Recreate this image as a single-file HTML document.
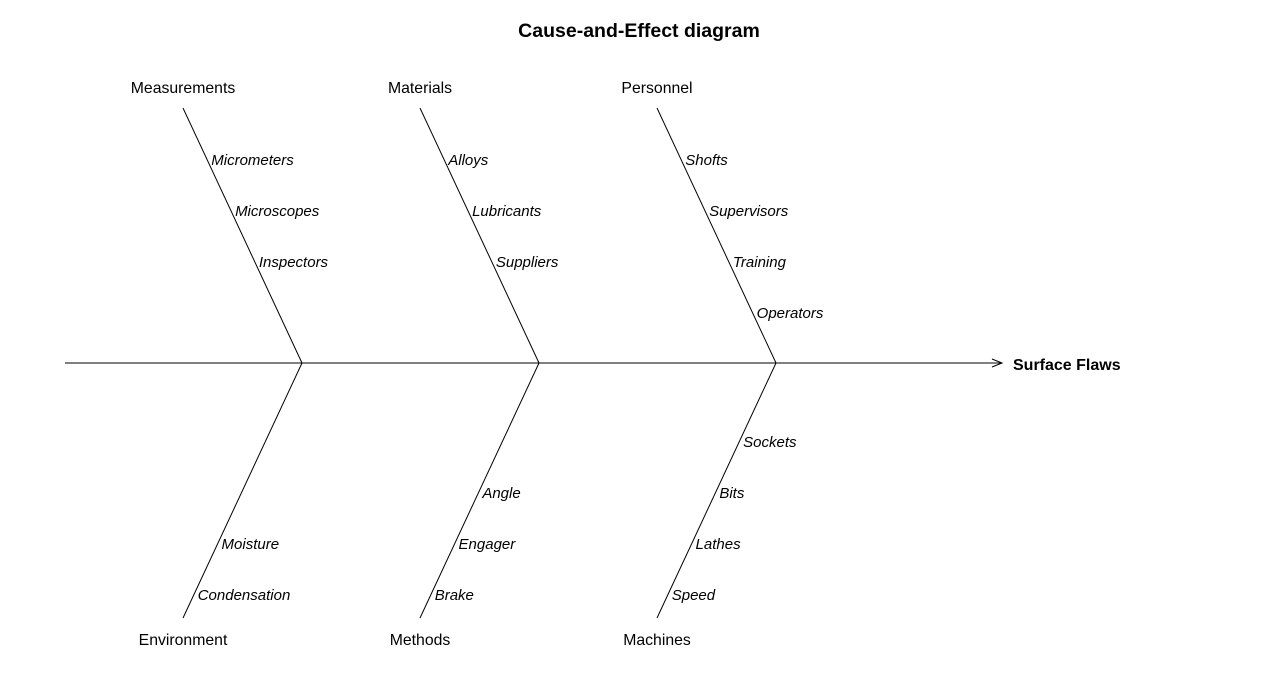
<!DOCTYPE html>
<html><head><meta charset="utf-8"><style>
html,body{margin:0;padding:0;background:#fff;}
svg{display:block;font-family:"Liberation Sans",Arial,sans-serif;}
</style></head><body>
<svg id="chart" width="1280" height="689" viewBox="0 0 1280 689">
<text x="639" y="37" text-anchor="middle" font-size="19.5" font-weight="bold">Cause-and-Effect diagram</text>
<line x1="65" y1="363" x2="1002" y2="363" stroke="#000" stroke-width="1"/>
<polyline points="992,359 1002,363 992,367" fill="none" stroke="#000"/>
<text x="1013" y="370" font-size="16" font-weight="bold">Surface Flaws</text>
<g id="bones"></g>
</svg>
<script>
const topCategories = ["Measurements", "Materials", "Personnel"];
const topCauses = [["Micrometers","Microscopes","Inspectors"],["Alloys","Lubricants","Suppliers"],["Shofts","Supervisors","Training","Operators"]];
const bottomCategories = ["Environment", "Methods", "Machines"];
const bottomCauses = [["Moisture","Condensation"],["Angle","Engager","Brake"],["Sockets","Bits","Lathes","Speed"]];

const NS = "http://www.w3.org/2000/svg";
const g = document.getElementById("bones");
const spineY = 363, tipY = 108, botY = 618, dx = 119;
const joints = [302, 539, 776];
const step = 51;
function mk(tag, attrs){const e=document.createElementNS(NS,tag);for(const k in attrs)e.setAttribute(k,attrs[k]);g.appendChild(e);return e;}

topCategories.forEach((cat,i)=>{
  const jx = joints[i], tx = jx - dx;
  const l = mk("line",{x1:tx,y1:tipY,x2:jx,y2:spineY,stroke:"#000"});
  
  
  const t = mk("text",{x:tx,y:tipY-15,"text-anchor":"middle","font-size":"15.8"});
  t.textContent = cat;
  
  
  topCauses[i].forEach((c,j)=>{
    const y = 160 + j*step;
    const x = tx + (y-tipY)*dx/(spineY-tipY) + 4;
    const s = mk("text",{x:x,y:y+5,"font-size":"15","font-style":"italic"});
    s.textContent = c;
    
    
  });
});
bottomCategories.forEach((cat,i)=>{
  const jx = joints[i], bx = jx - dx;
  const l = mk("line",{x1:jx,y1:spineY,x2:bx,y2:botY,stroke:"#000"});
  
  
  const t = mk("text",{x:bx,y:botY+27,"text-anchor":"middle","font-size":"15.8"});
  t.textContent = cat;
  
  
  const n = bottomCauses[i].length;
  bottomCauses[i].forEach((c,j)=>{
    const y = 595 - (n-1-j)*step;
    const x = jx - (y-spineY)*dx/(botY-spineY) + 4;
    const s = mk("text",{x:x,y:y+5,"font-size":"15","font-style":"italic"});
    s.textContent = c;
    
    
  });
});
</script>
</body></html>
